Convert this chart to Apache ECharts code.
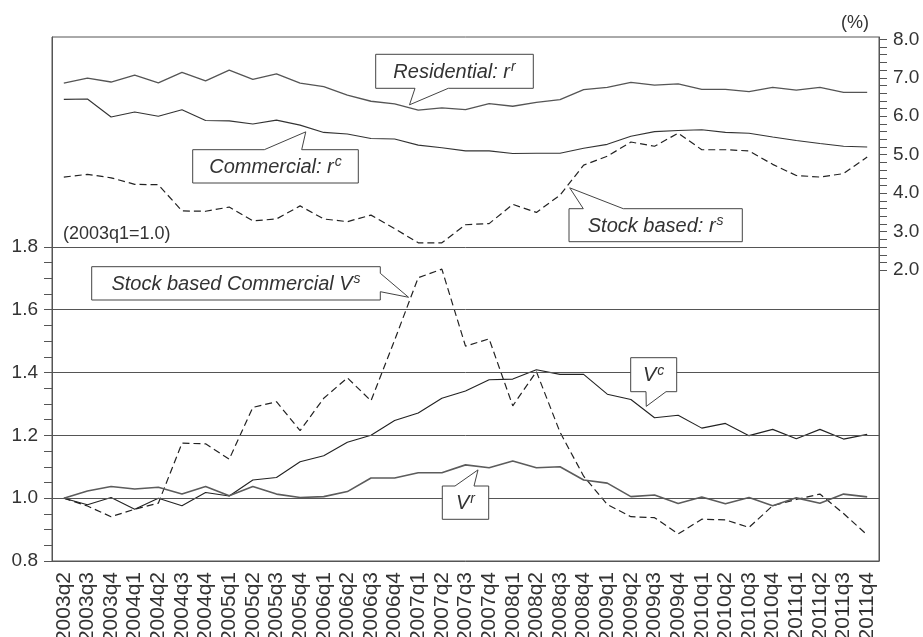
<!DOCTYPE html>
<html>
<head>
<meta charset="utf-8">
<script src="https://cdn.jsdelivr.net/npm/echarts@6/dist/echarts.min.js"></script>
<style>
  html, body { margin: 0; padding: 0; background: #fff; }
  #c { width: 923px; height: 637px; }
</style>
</head>
<body>
<div id="c"></div>
<script>
// Quarterly categories
const quarters = [
  '2003q2','2003q3','2003q4',
  '2004q1','2004q2','2004q3','2004q4',
  '2005q1','2005q2','2005q3','2005q4',
  '2006q1','2006q2','2006q3','2006q4',
  '2007q1','2007q2','2007q3','2007q4',
  '2008q1','2008q2','2008q3','2008q4',
  '2009q1','2009q2','2009q3','2009q4',
  '2010q1','2010q2','2010q3','2010q4',
  '2011q1','2011q2','2011q3','2011q4'
];

// Rates (%), right axis
const residentialRate = [6.86,6.99,6.89,7.07,6.87,7.14,6.92,7.20,6.96,7.10,6.86,6.77,6.55,6.39,6.32,6.16,6.22,6.17,6.33,6.26,6.36,6.43,6.69,6.75,6.88,6.81,6.84,6.70,6.70,6.64,6.75,6.68,6.75,6.62,6.62];
const commercialRate  = [6.44,6.45,5.98,6.11,6.00,6.17,5.89,5.88,5.80,5.90,5.77,5.58,5.54,5.42,5.41,5.25,5.18,5.10,5.10,5.03,5.04,5.04,5.17,5.27,5.48,5.60,5.63,5.65,5.58,5.56,5.46,5.37,5.29,5.22,5.20];
const stockRate       = [4.42,4.49,4.40,4.23,4.22,3.54,3.53,3.64,3.28,3.33,3.67,3.33,3.26,3.43,3.08,2.71,2.71,3.18,3.21,3.71,3.50,3.95,4.73,4.96,5.33,5.22,5.56,5.13,5.13,5.10,4.75,4.46,4.42,4.51,4.94];

// Value indices (2003q1 = 1.0), left axis
const stockValue       = [1.000,0.975,0.941,0.965,0.984,1.175,1.173,1.124,1.289,1.307,1.215,1.318,1.383,1.310,1.503,1.702,1.729,1.484,1.507,1.294,1.403,1.210,1.070,0.980,0.941,0.938,0.886,0.933,0.931,0.907,0.976,0.996,1.013,0.951,0.883];
const commercialValue  = [1.000,0.979,1.002,0.965,1.000,0.976,1.018,1.007,1.058,1.066,1.116,1.135,1.178,1.200,1.247,1.271,1.318,1.341,1.377,1.379,1.409,1.394,1.394,1.331,1.314,1.256,1.264,1.223,1.238,1.199,1.219,1.189,1.219,1.188,1.203];
const residentialValue = [1.000,1.023,1.037,1.029,1.035,1.013,1.037,1.008,1.037,1.013,1.002,1.005,1.021,1.064,1.064,1.081,1.081,1.106,1.097,1.118,1.097,1.100,1.058,1.048,1.005,1.010,0.983,1.004,0.982,1.002,0.976,1.001,0.984,1.013,1.004];

// Axis ticks, labels and reference lines
const indexTicks  = [0.8,0.85,0.9,0.95,1.0,1.05,1.1,1.15,1.2,1.25,1.3,1.35,1.4,1.45,1.5,1.55,1.6,1.65,1.7,1.75,1.8];
const indexLabels = [0.8,1.0,1.2,1.4,1.6,1.8];
const indexGrid   = [1.0,1.2,1.4,1.6,1.8];
const rateTicks   = [2.0,2.2,2.4,2.6,2.8,3.0,3.2,3.4,3.6,3.8,4.0,4.2,4.4,4.6,4.8,5.0,5.2,5.4,5.6,5.8,6.0,6.2,6.4,6.6,6.8,7.0,7.2,7.4,7.6,7.8,8.0];
const rateLabels  = [2.0,3.0,4.0,5.0,6.0,7.0,8.0];

const FONT = "'Liberation Sans', Arial, Helvetica, sans-serif";
const INK = '#333';
const AXIS = '#555';

const chart = echarts.init(document.getElementById('c'), null, { renderer: 'canvas' });

const option = {
  animation: false,
  backgroundColor: '#fff',
  grid: {
    left: 52, right: 44, top: 37, bottom: 76,
    containLabel: false, outerBoundsMode: 'none',
    show: true, borderColor: AXIS, borderWidth: 1, backgroundColor: 'transparent'
  },
  xAxis: {
    type: 'category',
    data: quarters,
    boundaryGap: true,
    axisLine: { onZero: false, lineStyle: { color: AXIS, width: 1 } },
    axisTick: { alignWithLabel: true, length: 7, lineStyle: { color: AXIS } },
    axisLabel: { rotate: 90, interval: 0, margin: 11, fontSize: 21, color: INK, fontFamily: FONT },
    splitLine: { show: false }
  },
  yAxis: [
    {
      type: 'value', position: 'left', min: 0.8, max: 2.468,
      axisLine: { show: true, onZero: false, lineStyle: { color: AXIS } },
      axisTick: { show: true, length: 8, customValues: indexTicks, lineStyle: { color: AXIS } },
      axisLabel: { customValues: indexLabels, formatter: v => v.toFixed(1), fontSize: 19, color: INK, fontFamily: FONT, margin: 14 },
      splitLine: { show: false }
    },
    {
      type: 'value', position: 'right', min: -5.56, max: 8.06,
      axisLine: { show: true, onZero: false, lineStyle: { color: AXIS } },
      axisTick: { show: true, length: 8, customValues: rateTicks, lineStyle: { color: AXIS } },
      axisLabel: { customValues: rateLabels, formatter: v => v.toFixed(1), fontSize: 19, color: INK, fontFamily: FONT, margin: 14 },
      splitLine: { show: false }
    }
  ],
  series: [
    {
      name: 'Residential: r^r', type: 'line', yAxisIndex: 1, data: residentialRate,
      symbol: 'none', lineStyle: { color: '#555', width: 1.3 }
    },
    {
      name: 'Commercial: r^c', type: 'line', yAxisIndex: 1, data: commercialRate,
      symbol: 'none', lineStyle: { color: '#333', width: 1.1 }
    },
    {
      name: 'Stock based: r^s', type: 'line', yAxisIndex: 1, data: stockRate,
      symbol: 'none', lineStyle: { color: '#222', width: 1.2, type: [7, 4] }
    },
    {
      name: 'Stock based Commercial V^s', type: 'line', yAxisIndex: 0, data: stockValue,
      symbol: 'none', lineStyle: { color: '#222', width: 1.2, type: [7, 4] },
      markLine: {
        silent: true, symbol: ['none', 'none'], label: { show: false },
        lineStyle: { color: AXIS, width: 1, type: 'solid' },
        data: indexGrid.map(v => ({ yAxis: v }))
      },
      z: 3
    },
    {
      name: 'V^c', type: 'line', yAxisIndex: 0, data: commercialValue,
      symbol: 'none', lineStyle: { color: '#222', width: 1.1 }, z: 3
    },
    {
      name: 'V^r', type: 'line', yAxisIndex: 0, data: residentialValue,
      symbol: 'none', lineStyle: { color: '#5c5c5c', width: 1.6 }, z: 3
    }
  ]
};

chart.setOption(option);

// Point on a series between category k and k+1 (fraction t), shifted by dy pixels
function tipOn(data, axisIdx, k, t, dy) {
  const p0 = chart.convertToPixel({ xAxisIndex: 0, yAxisIndex: axisIdx }, [k, data[k]]);
  const p1 = chart.convertToPixel({ xAxisIndex: 0, yAxisIndex: axisIdx }, [k + 1, data[k + 1]]);
  return [p0[0] + (p1[0] - p0[0]) * t, p0[1] + (p1[1] - p0[1]) * t + dy];
}

// Speech-bubble callout: box [x0,y0,x1,y1], tail on one edge between a and b, pointing to tip
function callout(box, edge, a, b, tip, main, sup) {
  const [x0, y0, x1, y1] = box;
  let pts;
  if (edge === 'bottom') pts = [[x0, y0], [x1, y0], [x1, y1], [b, y1], tip, [a, y1], [x0, y1]];
  else if (edge === 'top') pts = [[x0, y0], [a, y0], tip, [b, y0], [x1, y0], [x1, y1], [x0, y1]];
  else pts = [[x0, y0], [x1, y0], [x1, a], tip, [x1, b], [x1, y1], [x0, y1]];
  return [
    {
      type: 'polygon', z: 100,
      shape: { points: pts },
      style: { fill: '#fff', stroke: '#444', lineWidth: 1 }
    },
    {
      type: 'text', z: 101,
      x: (x0 + x1) / 2, y: (y0 + y1) / 2 + 1,
      style: {
        text: '{m|' + main + '}{s|' + sup + '}',
        align: 'center', verticalAlign: 'middle',
        rich: {
          m: { fontSize: 20, fontStyle: 'italic', fontFamily: FONT, fill: '#333' },
          s: { fontSize: 14, fontStyle: 'italic', fontFamily: FONT, fill: '#333', padding: [0, 0, 10, 1] }
        }
      }
    }
  ];
}

const graphics = [].concat(
  callout([375.7, 54.3, 533.3, 88.3], 'bottom', 415, 448.3,
    tipOn(residentialRate, 1, 14, 0.63, -3), 'Residential: r', 'r'),
  callout([192.7, 149.7, 358.3, 183], 'top', 264.3, 301.7,
    tipOn(commercialRate, 1, 10, 0.24, 5), 'Commercial: r', 'c'),
  callout([569, 208.7, 742.3, 241.7], 'top', 583.3, 623.3,
    tipOn(stockRate, 1, 21, 0.41, 5), 'Stock based: r', 's'),
  callout([91.7, 266.7, 380.3, 300], 'right', 273.3, 291.7,
    tipOn(stockValue, 0, 14, 0.59, -6), 'Stock based Commercial V', 's'),
  callout([630.7, 357.7, 676.7, 391.7], 'bottom', 646, 666,
    tipOn(commercialValue, 0, 24, 0.65, -5), 'V', 'c'),
  callout([442.3, 486, 488.7, 519.3], 'top', 455, 474,
    tipOn(residentialValue, 0, 17, 0.53, 3.5), 'V', 'r'),
  [
    {
      type: 'text', z: 100, x: 841, y: 23,
      style: { text: '(%)', fontSize: 18, fontFamily: FONT, fill: INK, verticalAlign: 'middle' }
    },
    {
      type: 'text', z: 100, x: 63, y: 234,
      style: { text: '(2003q1=1.0)', fontSize: 18, fontFamily: FONT, fill: INK, verticalAlign: 'middle' }
    }
  ]
);

chart.setOption({ graphic: graphics });
</script>
</body>
</html>
